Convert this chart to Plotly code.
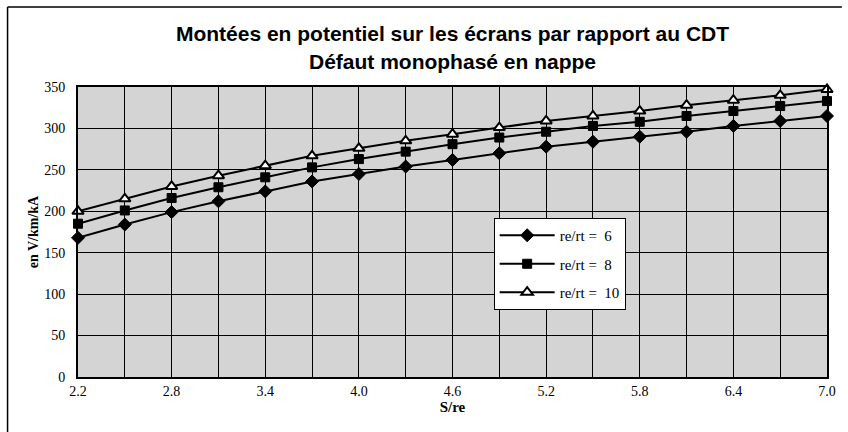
import plotly.graph_objects as go

x_vals = [2.2, 2.5, 2.8, 3.1, 3.4, 3.7, 4.0, 4.3, 4.6, 4.9, 5.2, 5.5, 5.8, 6.1, 6.4, 6.7, 7.0]
ratio6 = [168, 184, 199, 212, 224, 236, 245, 254, 262, 270, 278, 284, 290, 296, 303, 309, 315]
ratio8 = [185, 201, 216, 229, 241, 253, 263, 272, 281, 289, 296, 303, 308, 315, 321, 327, 333]
ratio10 = [200, 215, 230, 243, 255, 267, 276, 285, 293, 301, 309, 315, 321, 328, 334, 340, 347]
series_names = ["re/rt =  6", "re/rt =  8", "re/rt =  10"]
x_tick_vals = [2.2, 2.8, 3.4, 4.0, 4.6, 5.2, 5.8, 6.4, 7.0]
x_tick_text = ["2.2", "2.8", "3.4", "4.0", "4.6", "5.2", "5.8", "6.4", "7.0"]

serif = "Liberation Serif, Times New Roman, serif"
sans = "Liberation Sans, Arial, sans-serif"

fig = go.Figure()
styles = [
    dict(symbol="diamond", size=10, color="black", line=dict(color="black", width=1)),
    dict(symbol="square", size=9, color="black", line=dict(color="black", width=1)),
    dict(symbol="triangle-up", size=10, color="white", line=dict(color="black", width=2)),
]
for i, (name, ys) in enumerate(zip(series_names, [ratio6, ratio8, ratio10])):
    fig.add_trace(go.Scatter(
        x=x_vals, y=ys, name=name, mode="lines+markers",
        line=dict(color="black", width=2),
        marker=styles[i],
        legendgroup=f"g{i}",
        cliponaxis=False,
    ))

fig.update_layout(
    width=848, height=432,
    margin=dict(l=78, r=15, t=87, b=55),
    paper_bgcolor="white",
    plot_bgcolor="#d4d4d4",
    title=dict(
        text="Montées en potentiel sur les écrans par rapport au CDT<br>Défaut monophasé en nappe",
        font=dict(family=sans, size=21, color="black", weight="bold"),
        x=0.5, xref="paper", xanchor="center",
        y=0.904, yanchor="middle",
    ),
    showlegend=True,
    legend=dict(
        x=(497 - 78) / 755, y=(377 - 218) / 290, xanchor="left", yanchor="top",
        bgcolor="white", bordercolor="black", borderwidth=1,
        font=dict(family=serif, size=15, color="black"),
        tracegroupgap=6, itemwidth=55,
    ),
    xaxis=dict(
        range=[2.2, 7.0], tickvals=x_tick_vals, ticktext=x_tick_text,
        showgrid=True, gridcolor="black", gridwidth=1,
        minor=dict(tickvals=x_vals, showgrid=True, gridcolor="black", gridwidth=1),
        showline=True, linecolor="black", linewidth=2, mirror=True,
        ticks="", zeroline=False,
        tickfont=dict(family=serif, size=14, color="black"),
        title=dict(text="<b>S/re</b>", font=dict(family=serif, size=15, color="black"), standoff=3),
    ),
    yaxis=dict(
        range=[0, 350], dtick=50, tick0=0,
        showgrid=True, gridcolor="black", gridwidth=1,
        showline=True, linecolor="black", linewidth=2, mirror=True,
        ticks="", zeroline=False,
        tickfont=dict(family=serif, size=14, color="black"),
        ticklabelstandoff=8,
        title=dict(text="<b>en V/km/kA</b>", font=dict(family=serif, size=14, color="black"), standoff=2),
    ),
    shapes=[
        dict(type="line", xref="paper", yref="paper",
             x0=(7 - 78) / 755, x1=(848 - 78) / 755, y0=(377 - 7) / 290, y1=(377 - 7) / 290,
             line=dict(color="black", width=1.5)),
        dict(type="line", xref="paper", yref="paper",
             x0=(7 - 78) / 755, x1=(7 - 78) / 755, y0=(377 - 7) / 290, y1=(377 - 432) / 290,
             line=dict(color="black", width=1.5)),
    ],
)

fig.write_html(
    "out.html",
    config={"displayModeBar": False},
    post_script="document.body.style.margin='0';document.body.style.overflow='hidden';",
)
